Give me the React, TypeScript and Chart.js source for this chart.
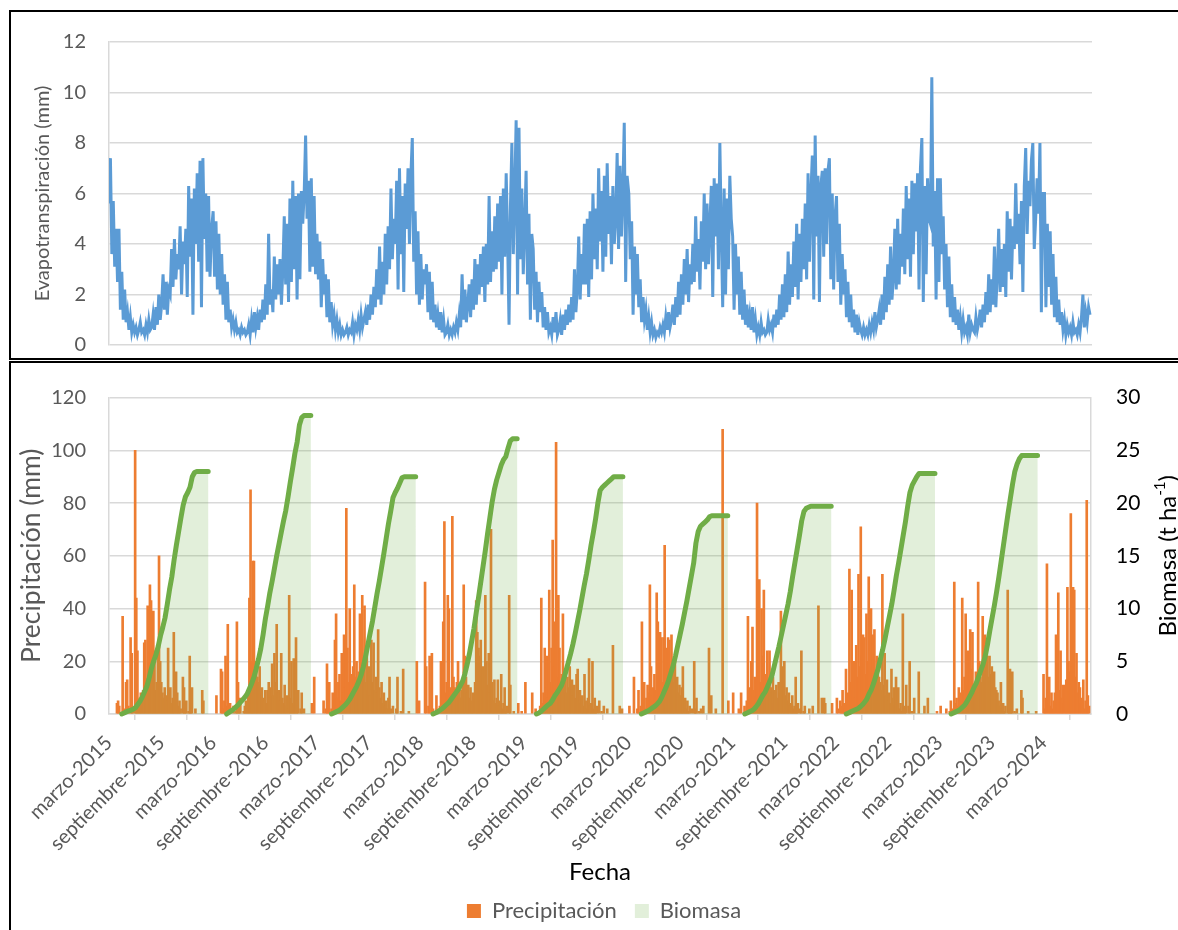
import React, { useEffect, useRef } from 'react';
import { Chart, registerables } from 'chart.js';

Chart.register(...registerables);

const FAMILY = 'Lato, "Noto Sans", sans-serif';
const GRAY_TEXT = '#595959';
const GRID = '#D9D9D9';

// Day index counted from 1 March 2015
const yearStartDays = [0, 366, 731, 1096, 1461, 1827, 2192, 2557, 2922, 3288];
const axisMaxDay = 3455;
const tickDays = [0, 184, 366, 550, 731, 915, 1096, 1280, 1461, 1645, 1827, 2011, 2192, 2376, 2557, 2741, 2922, 3106, 3288];
const tickLabels = [
  'marzo-2015', 'septiembre-2015', 'marzo-2016', 'septiembre-2016', 'marzo-2017', 'septiembre-2017',
  'marzo-2018', 'septiembre-2018', 'marzo-2019', 'septiembre-2019', 'marzo-2020', 'septiembre-2020',
  'marzo-2021', 'septiembre-2021', 'marzo-2022', 'septiembre-2022', 'marzo-2023', 'septiembre-2023', 'marzo-2024',
];

// Evapotranspiration (mm), one value every 5 days from 1 March of each year
const etStepDays = 5;
const et2015 = [
  5.6, 7.4, 3.6, 5.7, 3.1, 4.6, 2.5, 4.6, 1.4, 2.9, 1.0, 2.2, 0.9, 1.3, 0.6, 1.1, 0.5, 0.8,
  0.5, 0.7, 0.4, 0.6, 0.9, 0.5, 0.6, 0.4, 0.8, 0.5, 1.0, 0.6, 0.7, 1.2, 0.6, 1.5, 0.8, 2.0, 1.0,
  1.6, 2.8, 1.4, 2.5, 1.2, 2.2, 2.0, 3.8, 2.3, 4.2, 2.6, 3.6, 3.0, 4.7, 2.0, 4.1, 3.2, 4.6,
  1.9, 6.3, 3.5, 5.8, 1.2, 6.2, 4.0, 6.8, 3.3, 7.3, 1.5, 7.4, 4.2, 6.0, 2.9, 5.9, 2.7, 4.5,
];
const et2016 = [
  5.3, 2.7, 4.9, 2.2, 4.4, 2.0, 3.6, 1.6, 2.8, 1.0, 2.5, 0.9, 1.4, 0.7, 1.0, 0.6, 0.9, 0.5,
  0.6, 0.4, 0.7, 0.5, 0.6, 0.4, 0.5, 0.8, 0.4, 1.0, 0.5, 1.3, 0.7, 1.1, 0.6, 1.4, 0.9, 1.8, 1.0,
  2.4, 1.2, 4.4, 1.6, 2.2, 1.3, 3.5, 1.8, 3.2, 2.0, 3.4, 1.6, 3.0, 5.1, 2.4, 4.8, 1.7, 5.8,
  2.5, 6.5, 3.0, 5.9, 1.8, 6.0, 2.6, 6.1, 4.8, 6.0, 8.3, 5.0, 6.5, 2.9, 6.6, 3.1, 5.9, 2.8,
];
const et2017 = [
  4.4, 2.6, 4.1, 1.5, 3.4, 2.0, 2.8, 1.1, 2.6, 0.9, 1.7, 0.8, 1.2, 0.6, 1.0, 0.5, 0.8, 0.4,
  0.6, 0.4, 0.5, 0.7, 0.4, 0.6, 0.5, 0.9, 0.4, 0.8, 0.6, 1.0, 0.6, 1.2, 0.7, 1.0, 1.3, 0.8, 1.6,
  1.0, 2.0, 1.2, 2.3, 1.5, 3.0, 1.8, 3.9, 1.6, 3.3, 2.0, 4.4, 2.4, 4.7, 3.0, 6.2, 3.4, 5.0,
  4.0, 6.5, 2.2, 7.0, 3.6, 5.9, 2.1, 6.4, 4.6, 7.0, 4.0, 6.7, 8.2, 3.3, 5.3, 2.0, 4.5, 1.6,
];
const et2018 = [
  3.6, 1.8, 3.0, 2.4, 3.2, 1.3, 2.9, 1.0, 2.5, 0.9, 1.6, 0.7, 1.2, 0.6, 1.3, 0.5, 1.0, 0.4,
  0.5, 0.8, 0.4, 0.6, 0.4, 0.7, 0.5, 0.9, 0.6, 1.2, 0.7, 2.8, 1.0, 2.2, 0.9, 1.6, 2.4, 1.1, 2.6,
  1.4, 3.4, 1.6, 3.2, 2.0, 3.6, 2.3, 3.9, 1.7, 4.0, 2.4, 5.9, 2.5, 4.5, 2.9, 5.1, 3.0, 5.6,
  3.3, 5.9, 2.0, 6.2, 3.5, 6.8, 4.2, 0.8, 5.5, 8.0, 3.6, 6.0, 8.9, 2.0, 8.6, 3.4, 6.2, 2.8,
];
const et2019 = [
  4.6, 6.9, 2.4, 5.2, 1.0, 4.4, 3.8, 1.4, 2.9, 0.9, 2.5, 1.3, 2.1, 0.7, 1.5, 0.6, 1.3, 0.5,
  0.7, 0.4, 1.1, 0.5, 1.3, 0.4, 0.6, 1.0, 0.4, 1.2, 0.6, 1.4, 0.8, 1.6, 0.9, 1.9, 1.0, 3.0, 1.3,
  2.2, 4.3, 1.8, 3.6, 2.4, 4.8, 2.4, 5.0, 1.9, 5.3, 2.6, 6.0, 3.4, 5.4, 3.0, 7.0, 4.1, 6.1,
  2.9, 6.7, 3.5, 7.2, 4.4, 5.9, 3.2, 6.3, 4.0, 5.0, 7.6, 3.8, 7.1, 4.3, 6.1, 8.8, 2.5, 6.7,
];
const et2020 = [
  6.0, 3.4, 4.9, 1.2, 3.9, 2.0, 3.6, 1.5, 2.6, 0.9, 1.9, 1.0, 1.4, 0.6, 1.1, 0.5, 0.9, 0.4,
  0.6, 0.3, 0.5, 0.4, 0.7, 0.5, 0.8, 0.5, 1.1, 0.6, 1.3, 0.7, 1.0, 1.6, 0.8, 1.9, 1.1, 2.5, 1.2,
  2.8, 1.6, 3.4, 2.0, 3.8, 1.7, 3.2, 2.4, 4.0, 2.5, 5.1, 2.9, 4.2, 2.2, 4.9, 3.3, 6.0, 3.0,
  5.6, 3.2, 4.8, 6.3, 1.9, 6.6, 4.3, 6.4, 3.0, 8.0, 4.5, 1.5, 6.2, 2.0, 5.8, 3.0, 6.7, 5.0,
];
const et2021 = [
  4.3, 1.4, 4.0, 2.0, 3.5, 1.2, 2.9, 1.0, 2.2, 0.8, 1.6, 0.7, 1.2, 0.6, 1.5, 0.5, 1.0, 0.4,
  0.7, 0.4, 0.9, 0.5, 0.6, 0.4, 0.5, 1.0, 0.6, 0.8, 0.5, 1.2, 0.7, 1.4, 0.8, 2.0, 1.0, 2.4, 1.1,
  2.8, 1.3, 3.7, 1.6, 3.2, 1.9, 4.1, 2.3, 4.8, 1.8, 4.4, 2.5, 5.0, 3.0, 5.6, 2.6, 6.8, 3.3,
  6.0, 7.5, 1.8, 8.3, 4.3, 6.7, 1.7, 6.3, 6.9, 3.5, 7.0, 4.0, 6.9, 7.4, 2.6, 6.0, 2.2, 5.1,
];
const et2022 = [
  5.9, 2.5, 4.8, 1.6, 3.6, 2.0, 3.0, 1.1, 2.5, 0.9, 2.0, 0.7, 1.4, 0.5, 1.2, 0.4, 0.9, 0.6,
  0.4, 0.7, 0.4, 0.6, 0.4, 0.8, 0.5, 0.9, 0.6, 1.3, 0.7, 1.0, 1.4, 0.8, 2.0, 1.0, 2.7, 1.3, 3.2,
  1.6, 3.9, 1.8, 2.7, 4.6, 2.2, 5.0, 2.4, 4.4, 3.1, 5.4, 2.8, 6.3, 3.4, 5.8, 2.7, 6.5, 3.6,
  6.4, 4.5, 6.8, 2.2, 7.0, 8.2, 1.7, 6.3, 2.8, 6.6, 5.0, 4.8, 10.6, 3.9, 6.1, 1.8, 6.6, 2.5,
];
const et2023 = [
  6.6, 3.6, 5.1, 2.2, 4.0, 1.5, 3.5, 1.1, 2.4, 0.9, 1.9, 0.8, 1.4, 0.6, 1.1, 0.5, 1.0, 0.5,
  0.7, 0.4, 1.2, 0.5, 0.8, 0.6, 0.5, 1.1, 0.6, 0.9, 1.4, 0.7, 1.6, 0.9, 2.1, 1.2, 2.8, 1.3, 2.6,
  1.6, 3.9, 1.5, 2.8, 4.6, 2.1, 3.8, 2.3, 4.0, 1.9, 5.3, 2.9, 5.0, 2.6, 4.7, 3.8, 6.4, 4.0,
  5.2, 3.2, 5.7, 2.1, 6.3, 7.8, 4.4, 6.5, 5.5, 7.3, 8.0, 3.8, 5.0, 6.6, 5.2, 8.0, 1.3, 6.0,
];
const et2024 = [
  6.0, 1.5, 4.8, 2.3, 4.5, 1.6, 3.6, 1.1, 2.7, 0.9, 1.8, 0.8, 1.3, 0.6, 1.0, 0.4, 0.8, 0.5,
  0.7, 0.4, 0.9, 0.5, 0.6, 0.4, 0.8, 0.5, 1.1, 2.0, 0.7, 1.3, 0.9, 1.5, 1.2,
];
const etYears = [et2015, et2016, et2017, et2018, et2019, et2020, et2021, et2022, et2023, et2024];

// Precipitation (mm), one value every 4 days from 1 March of each year
const precipStepDays = 4;
const precip2015 = [
  0, 0, 0, 0, 0, 0, 0, 4, 5, 3, 0, 0, 37, 2, 0, 12, 13, 3, 0, 29,
  23, 2, 0, 100, 44, 24, 3, 6, 8, 4, 9, 27, 28, 10, 41, 12, 49, 43, 15, 39,
  24, 9, 12, 22, 60, 20, 12, 8, 6, 10, 7, 5, 25, 9, 10, 4, 6, 31, 7, 16,
  8, 3, 5, 2, 0, 14, 10, 2, 5, 0, 1, 22, 2, 10, 0, 0, 2, 0, 0, 0,
  0, 0, 9, 5, 0, 0, 0, 0, 0, 0, 0,
];
const precip2016 = [
  0, 0, 0, 7, 0, 0, 0, 17, 16, 2, 5, 22, 3, 34, 0, 4, 0, 0, 3, 0,
  1, 35, 12, 2, 6, 0, 0, 1, 3, 5, 2, 8, 44, 85, 20, 58, 58, 15, 20, 14,
  12, 18, 8, 10, 6, 5, 9, 4, 9, 12, 6, 10, 19, 7, 23, 12, 34, 8, 9, 5,
  23, 6, 4, 11, 3, 7, 2, 45, 6, 20, 4, 21, 3, 29, 5, 9, 0, 2, 8, 0,
  2, 0, 0, 0, 0, 0, 0, 4, 0, 14, 0,
];
const precip2017 = [
  0, 0, 0, 0, 0, 0, 5, 0, 2, 19, 3, 12, 0, 2, 8, 4, 28, 38, 6, 12,
  15, 5, 23, 8, 30, 10, 78, 25, 12, 40, 15, 9, 18, 49, 14, 20, 11, 16, 38, 13,
  45, 17, 41, 12, 26, 9, 18, 7, 28, 12, 27, 9, 14, 8, 32, 10, 6, 12, 4, 8,
  3, 5, 2, 6, 14, 2, 0, 3, 0, 0, 2, 14, 0, 0, 1, 0, 17, 0, 0, 0,
  0, 1, 0, 0, 0, 0, 0, 0, 20, 0, 5,
];
const precip2018 = [
  0, 0, 0, 0, 50, 18, 0, 3, 22, 0, 23, 2, 0, 1, 7, 0, 0, 3, 20, 5,
  35, 73, 8, 12, 45, 40, 10, 6, 75, 14, 10, 7, 12, 20, 9, 6, 9, 12, 49, 22,
  14, 8, 11, 6, 10, 5, 8, 6, 12, 43, 31, 25, 22, 28, 14, 18, 9, 45, 20, 11,
  23, 8, 70, 12, 5, 13, 4, 6, 13, 3, 5, 15, 2, 4, 10, 1, 3, 0, 45, 11,
  0, 0, 1, 0, 0, 0, 4, 0, 0, 1, 0,
];
const precip2019 = [
  0, 12, 0, 0, 0, 0, 0, 8, 0, 0, 2, 0, 0, 1, 3, 44, 4, 8, 25, 10,
  22, 6, 47, 12, 25, 66, 18, 35, 103, 14, 45, 25, 9, 15, 38, 12, 16, 8, 14, 10,
  18, 9, 13, 7, 11, 6, 15, 17, 5, 9, 4, 7, 3, 15, 5, 2, 6, 21, 3, 4,
  20, 2, 6, 1, 3, 0, 5, 0, 1, 0, 3, 0, 0, 2, 0, 0, 0, 0, 26, 0,
  0, 0, 0, 0, 3, 0, 2, 0, 0, 0, 0,
];
const precip2020 = [
  0, 3, 0, 0, 0, 14, 0, 0, 2, 9, 0, 3, 35, 4, 12, 2, 6, 11, 8, 49,
  18, 7, 10, 15, 9, 46, 35, 14, 31, 29, 12, 29, 64, 25, 10, 29, 28, 15, 30, 18,
  12, 20, 9, 14, 8, 11, 7, 10, 18, 4, 6, 2, 5, 1, 3, 0, 2, 0, 20, 2,
  6, 0, 1, 0, 2, 0, 3, 0, 0, 0, 0, 25, 0, 7, 0, 0, 0, 2, 0, 0,
  0, 0, 0, 108, 0, 0, 0, 0, 5, 0, 0,
];
const precip2021 = [
  0, 8, 0, 0, 0, 0, 2, 0, 8, 0, 0, 3, 0, 5, 37, 6, 10, 20, 33, 9,
  14, 7, 80, 18, 51, 12, 40, 22, 47, 15, 10, 24, 12, 24, 10, 8, 14, 4, 9, 11,
  6, 12, 8, 39, 10, 18, 20, 7, 10, 5, 8, 3, 4, 7, 2, 3, 14, 1, 4, 0,
  2, 24, 0, 1, 3, 0, 0, 0, 2, 0, 0, 3, 0, 0, 0, 0, 41, 0, 0, 6,
  0, 6, 4, 0, 0, 0, 0, 0, 4, 0, 0,
];
const precip2022 = [
  0, 6, 2, 0, 5, 3, 9, 4, 2, 17, 5, 8, 55, 12, 47, 9, 20, 6, 26, 14,
  53, 18, 71, 22, 30, 29, 15, 38, 20, 52, 24, 40, 18, 30, 32, 15, 22, 18, 14, 12,
  9, 53, 11, 23, 7, 13, 5, 8, 4, 17, 6, 10, 3, 14, 5, 10, 2, 4, 1, 38,
  3, 2, 11, 0, 3, 20, 0, 1, 0, 6, 0, 0, 0, 16, 0, 0, 0, 0, 3, 0,
  0, 6, 0, 0, 0, 0, 0, 0, 0, 1, 0,
];
const precip2023 = [
  0, 3, 0, 0, 0, 0, 2, 0, 0, 1, 5, 0, 2, 50, 4, 6, 3, 10, 5, 8,
  44, 9, 14, 38, 11, 24, 13, 32, 17, 31, 10, 8, 16, 12, 50, 20, 14, 12, 37, 18,
  30, 16, 22, 14, 22, 15, 18, 12, 16, 10, 9, 8, 5, 3, 12, 2, 4, 1, 3, 0,
  47, 4, 17, 2, 16, 0, 1, 0, 2, 0, 0, 0, 9, 6, 0, 0, 0, 0, 1, 0,
  0, 0, 0, 0, 0, 1, 0, 0, 0, 0, 0,
];
const precip2024 = [
  15, 2, 6, 57, 9, 14, 3, 8, 2, 5, 8, 30, 12, 46, 9, 24, 6, 11, 4, 11,
  13, 48, 20, 16, 76, 18, 48, 47, 14, 23, 8, 12, 10, 4, 6, 13, 2, 5, 81, 7, 3,
];
const precipYears = [precip2015, precip2016, precip2017, precip2018, precip2019, precip2020, precip2021, precip2022, precip2023, precip2024];

// Biomass (t ha-1), one value every 8 days from the start of each growing season
const biomassStepDays = 8;
const biomassStarts = [45, 414, 783, 1140, 1504, 1873, 2237, 2594, 2963];
const bio2015 = [0, 0.1, 0.2, 0.3, 0.35, 0.45, 0.6, 0.9, 1.2, 1.6, 2.1, 2.6, 3.4, 4.3, 5.0, 5.6, 6.4, 7.4, 8.2, 9.1, 10.4, 11.8, 13.0, 14.6, 16.0, 17.3, 18.6, 19.8, 20.6, 21.0, 21.5, 22.5, 22.9, 23.0, 23.0, 23.0, 23.0, 23.0, 23.0];
const bio2016 = [0, 0.15, 0.3, 0.45, 0.65, 0.85, 1.1, 1.35, 1.6, 1.9, 2.4, 2.9, 3.5, 4.3, 5.2, 6.2, 7.5, 9.0, 10.2, 11.5, 12.6, 13.8, 15.0, 16.1, 17.2, 18.3, 19.3, 20.6, 22.0, 23.3, 24.7, 25.8, 27.4, 28.1, 28.3, 28.3, 28.3, 28.3];
const bio2017 = [0, 0.1, 0.2, 0.3, 0.45, 0.65, 0.85, 1.1, 1.4, 1.8, 2.2, 2.6, 3.1, 3.7, 4.5, 5.5, 6.6, 7.7, 8.8, 10.1, 11.4, 12.6, 13.9, 15.2, 16.6, 18.0, 19.2, 20.5, 21.0, 21.4, 21.9, 22.4, 22.5, 22.5, 22.5, 22.5, 22.5, 22.5];
const bio2018 = [0, 0.1, 0.2, 0.35, 0.5, 0.7, 0.9, 1.1, 1.4, 1.7, 2.0, 2.3, 2.7, 3.1, 3.8, 4.7, 5.7, 6.9, 8.1, 9.6, 11.0, 12.5, 14.0, 15.5, 17.1, 18.6, 20.1, 21.3, 22.2, 22.9, 23.6, 24.1, 24.4, 25.2, 25.9, 26.1, 26.1, 26.1];
const bio2019 = [0, 0.1, 0.25, 0.45, 0.65, 0.85, 1.0, 1.3, 1.7, 2.0, 2.35, 2.7, 3.3, 4.1, 4.9, 5.7, 6.6, 7.6, 8.7, 9.8, 11.0, 12.2, 13.3, 14.6, 16.0, 17.2, 18.5, 20.0, 21.2, 21.5, 21.7, 21.9, 22.1, 22.3, 22.5, 22.5, 22.5, 22.5, 22.5];
const bio2020 = [0, 0.1, 0.2, 0.3, 0.45, 0.6, 0.75, 0.95, 1.2, 1.6, 2.1, 2.6, 3.2, 3.9, 4.6, 5.5, 6.5, 7.5, 8.5, 9.6, 10.7, 11.9, 13.1, 14.3, 16.2, 17.3, 17.8, 18.0, 18.2, 18.4, 18.7, 18.8, 18.8, 18.8, 18.8, 18.8, 18.8, 18.8, 18.8];
const bio2021 = [0, 0.1, 0.2, 0.3, 0.45, 0.7, 1.0, 1.4, 1.8, 2.1, 2.6, 3.1, 3.7, 4.6, 5.5, 6.4, 7.4, 8.4, 9.4, 10.4, 11.6, 13.0, 14.3, 15.6, 16.9, 18.3, 19.2, 19.5, 19.6, 19.7, 19.7, 19.7, 19.7, 19.7, 19.7, 19.7, 19.7, 19.7, 19.7];
const bio2022 = [0, 0.1, 0.2, 0.3, 0.4, 0.5, 0.65, 0.85, 1.1, 1.4, 1.9, 2.3, 2.9, 3.6, 4.3, 5.2, 6.1, 7.1, 8.2, 9.3, 10.4, 11.7, 13.1, 14.3, 15.6, 16.9, 18.2, 19.7, 21.0, 21.7, 22.1, 22.5, 22.8, 22.8, 22.8, 22.8, 22.8, 22.8, 22.8, 22.8];
const bio2023 = [0, 0.1, 0.2, 0.3, 0.45, 0.65, 0.85, 1.2, 1.6, 2.0, 2.5, 2.9, 3.5, 4.1, 4.7, 5.5, 6.6, 7.9, 9.1, 10.3, 11.6, 13.0, 14.5, 16.0, 17.5, 19.0, 20.4, 21.8, 23.0, 23.7, 24.2, 24.5, 24.5, 24.5, 24.5, 24.5, 24.5, 24.5, 24.5];
const biomassSeasons = [bio2015, bio2016, bio2017, bio2018, bio2019, bio2020, bio2021, bio2022, bio2023];

type Pt = { x: number; y: number | null };

function etPoints(): Pt[] {
  const pts: Pt[] = [];
  etYears.forEach((vals, k) => vals.forEach((v, i) => pts.push({ x: yearStartDays[k] + etStepDays * i, y: v })));
  return pts;
}
function precipPoints(): Pt[] {
  const pts: Pt[] = [];
  precipYears.forEach((vals, k) =>
    vals.forEach((v, i) => {
      if (v > 0) pts.push({ x: yearStartDays[k] + precipStepDays * i, y: v });
    })
  );
  return pts;
}
function biomassLine(): Pt[] {
  const pts: Pt[] = [];
  biomassSeasons.forEach((vals, s) => {
    vals.forEach((v, n) => pts.push({ x: biomassStarts[s] + biomassStepDays * n, y: v }));
    pts.push({ x: biomassStarts[s] + biomassStepDays * (vals.length - 1) + 1, y: null });
  });
  return pts;
}
function biomassArea(): Pt[] {
  const pts: Pt[] = [{ x: 0, y: 0 }];
  biomassSeasons.forEach((vals, s) => {
    vals.forEach((v, n) => pts.push({ x: biomassStarts[s] + biomassStepDays * n, y: v }));
    pts.push({ x: biomassStarts[s] + biomassStepDays * (vals.length - 1) + 0.5, y: 0 });
  });
  pts.push({ x: axisMaxDay, y: 0 });
  return pts;
}

const rightTitlePlugin = {
  id: 'rightTitle',
  afterDraw(chart: any) {
    const { ctx, chartArea } = chart;
    const cx = 1168;
    const cy = (chartArea.top + chartArea.bottom) / 2;
    const big = `24px ${FAMILY}`;
    const small = `15px ${FAMILY}`;
    const p1 = 'Biomasa (t ha';
    const sup = '-1';
    const p2 = ')';
    ctx.save();
    ctx.font = big;
    const w1 = ctx.measureText(p1).width;
    const w3 = ctx.measureText(p2).width;
    ctx.font = small;
    const w2 = ctx.measureText(sup).width;
    const total = w1 + w2 + w3;
    ctx.translate(cx, cy);
    ctx.rotate(-Math.PI / 2);
    ctx.fillStyle = '#000';
    ctx.textBaseline = 'middle';
    ctx.textAlign = 'left';
    let x = -total / 2;
    ctx.font = big;
    ctx.fillText(p1, x, 0);
    x += w1;
    ctx.font = small;
    ctx.fillText(sup, x, -8);
    x += w2;
    ctx.font = big;
    ctx.fillText(p2, x, 0);
    ctx.restore();
  },
};

export default function App() {
  const topRef = useRef<HTMLCanvasElement>(null);
  const botRef = useRef<HTMLCanvasElement>(null);

  useEffect(() => {
    Chart.defaults.font.family = FAMILY;
    const top = new Chart(topRef.current as HTMLCanvasElement, {
      type: 'line',
      data: {
        datasets: [
          {
            label: 'Evapotranspiración',
            data: etPoints() as any,
            borderColor: '#5B9BD5',
            borderWidth: 3,
            pointRadius: 0,
            fill: false,
            tension: 0,
          },
        ],
      },
      options: {
        animation: false,
        responsive: false,
        devicePixelRatio: 1,
        events: [],
        layout: { padding: { left: 0, right: 86, top: 42, bottom: 35 } },
        plugins: { legend: { display: false }, tooltip: { enabled: false } },
        scales: {
          x: { type: 'linear', min: 0, max: axisMaxDay, display: false },
          y: {
            min: 0,
            max: 12,
            ticks: { stepSize: 2, color: GRAY_TEXT, font: { family: FAMILY, size: 20 }, padding: 23 },
            grid: { color: GRID, lineWidth: 1.5, drawTicks: false },
            border: { display: true, color: GRID, width: 1.5 },
            title: {
              display: true,
              text: 'Evapotranspiración (mm)',
              color: GRAY_TEXT,
              font: { family: FAMILY, size: 20 },
              padding: { top: 31, bottom: 0 },
            },
            afterFit: (s: any) => {
              s.width = 109;
            },
          },
        },
      } as any,
    });

    const bot = new Chart(botRef.current as HTMLCanvasElement, {
      type: 'bar',
      data: {
        datasets: [
          {
            type: 'bar',
            label: 'Precipitación',
            data: precipPoints() as any,
            backgroundColor: '#ED7D31',
            borderWidth: 0,
            barThickness: 2,
            yAxisID: 'y',
            order: 3,
          } as any,
          {
            type: 'line',
            label: 'Biomasa',
            data: biomassArea() as any,
            yAxisID: 'y2',
            backgroundColor: 'rgba(112,173,71,0.2)',
            borderColor: 'rgba(112,173,71,0)',
            borderWidth: 0,
            pointRadius: 0,
            fill: 'origin',
            tension: 0,
            order: 2,
          },
          {
            type: 'line',
            label: 'Biomasa curva',
            data: biomassLine() as any,
            yAxisID: 'y2',
            borderColor: '#70AD47',
            borderWidth: 5,
            pointRadius: 0,
            fill: false,
            spanGaps: false,
            tension: 0,
            borderCapStyle: 'round',
            borderJoinStyle: 'round',
            order: 1,
            clip: 10,
          },
        ],
      },
      options: {
        animation: false,
        responsive: false,
        devicePixelRatio: 1,
        events: [],
        layout: { padding: { left: 0, right: 0, top: 37, bottom: 0 } },
        plugins: {
          tooltip: { enabled: false },
          legend: {
            position: 'bottom',
            labels: {
              color: GRAY_TEXT,
              font: { family: FAMILY, size: 22 },
              boxWidth: 14,
              boxHeight: 14,
              padding: 18,
              filter: (item: any) => item.datasetIndex !== 2,
              sort: (a: any, b: any) => a.datasetIndex - b.datasetIndex,
            },
          },
        },
        scales: {
          x: {
            type: 'linear',
            min: 0,
            max: axisMaxDay,
            offset: false,
            afterBuildTicks: (s: any) => {
              s.ticks = tickDays.map((v) => ({ value: v }));
            },
            ticks: {
              autoSkip: false,
              minRotation: 45,
              maxRotation: 45,
              color: GRAY_TEXT,
              font: { family: FAMILY, size: 20 },
              padding: 11,
              callback: (_v: any, i: number) => tickLabels[i],
            },
            grid: { display: true, drawOnChartArea: false, drawTicks: true, tickLength: 6, color: GRID, lineWidth: 1.5 },
            border: { display: true, color: GRID, width: 1.5 },
            title: {
              display: true,
              text: 'Fecha',
              color: '#000',
              font: { family: FAMILY, size: 24, lineHeight: 0.85 },
              padding: 0,
            },
            afterFit: (s: any) => {
              s.height = 168;
            },
          },
          y: {
            position: 'left',
            min: 0,
            max: 120,
            ticks: { stepSize: 20, color: GRAY_TEXT, font: { family: FAMILY, size: 20 }, padding: 23 },
            grid: { color: GRID, lineWidth: 1.5, drawTicks: false },
            border: { display: true, color: GRID, width: 1.5 },
            title: {
              display: true,
              text: 'Precipitación (mm)',
              color: GRAY_TEXT,
              font: { family: FAMILY, size: 26.5 },
              padding: { top: 16, bottom: 0 },
            },
            afterFit: (s: any) => {
              s.width = 109;
            },
          },
          y2: {
            position: 'right',
            min: 0,
            max: 30,
            ticks: { stepSize: 5, color: '#000', font: { family: FAMILY, size: 21 }, padding: 25 },
            grid: { display: true, drawOnChartArea: false, drawTicks: false },
            border: { display: true, color: GRID, width: 1.5 },
            afterFit: (s: any) => {
              s.width = 117;
            },
          },
        },
      } as any,
      plugins: [rightTitlePlugin],
    });

    return () => {
      top.destroy();
      bot.destroy();
    };
  }, []);

  return (
    <div style={{ position: 'fixed', left: 0, top: 0, width: 1178, height: 930, overflow: 'hidden', background: '#fff' }}>
      <div style={{ position: 'absolute', left: 9, top: 10, width: 1200, height: 350, border: '2px solid #000', boxSizing: 'border-box' }} />
      <div style={{ position: 'absolute', left: 9, top: 361, width: 1200, height: 600, border: '2px solid #000', boxSizing: 'border-box' }} />
      <canvas ref={topRef} width={1178} height={380} style={{ position: 'absolute', left: 0, top: 0, width: 1178, height: 380 }} />
      <canvas ref={botRef} width={1208} height={572} style={{ position: 'absolute', left: 0, top: 360, width: 1208, height: 572 }} />
    </div>
  );
}
